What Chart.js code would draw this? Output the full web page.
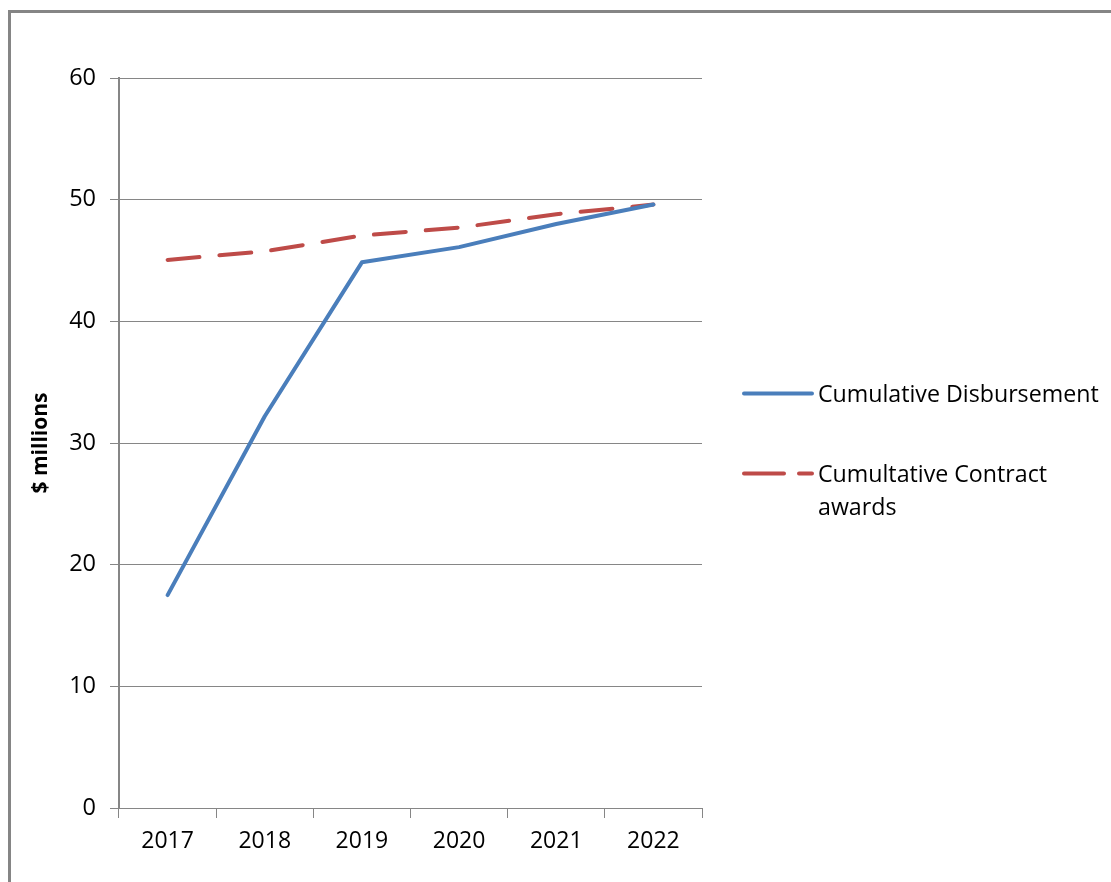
<!DOCTYPE html>
<html>
<head>
<meta charset="utf-8">
<script src="https://cdn.jsdelivr.net/npm/chart.js@4/dist/chart.umd.min.js"></script>
<style>
  html, body { margin: 0; padding: 0; background: #fff; overflow: hidden; width: 1111px; height: 882px; }
  #frame { position: absolute; left: 8px; top: 10px; width: 1200px; height: 1000px; border: 3px solid #858585; box-sizing: border-box; }
  #wrap { position: absolute; left: 0; top: 0; width: 1111px; height: 882px; }
  #legend { position: absolute; left: 742px; top: 0; font-family: "Open Sans", sans-serif; font-size: 23.2px; color: #000; }
  .item { position: absolute; left: 0; white-space: nowrap; }
  .item svg { position: absolute; left: 0; }
  .item span { position: absolute; left: 76px; line-height: 33px; display: block; white-space: normal; }
</style>
</head>
<body>
<div id="frame"></div>
<div id="wrap"><canvas id="c" width="1111" height="882"></canvas></div>
<div id="legend"></div>
<script>
const years = ['2017', '2018', '2019', '2020', '2021', '2022'];
const disbursement = [17.5, 32.2, 44.85, 46.1, 48.0, 49.6];
const contracts = [45.05, 45.75, 47.05, 47.7, 48.8, 49.6];
const seriesNames = ['Cumulative Disbursement', 'Cumultative Contract awards'];
const yTitle = '$ millions';

const FONT = '"Open Sans", sans-serif';
const GRID = '#868686';
const BLUE = '#4a7ebb';
const RED = '#be4b48';

const ctx = document.getElementById('c').getContext('2d');
new Chart(ctx, {
  type: 'line',
  data: {
    labels: years,
    datasets: [
      { label: seriesNames[0], data: disbursement, borderColor: BLUE, borderWidth: 4, pointRadius: 0, tension: 0, fill: false, borderCapStyle: 'round', borderJoinStyle: 'round' },
      { label: seriesNames[1], data: contracts, borderColor: RED, borderWidth: 4, pointRadius: 0, tension: 0, fill: false, borderDash: [32, 20], borderCapStyle: 'round' }
    ]
  },
  options: {
    responsive: false,
    devicePixelRatio: 1,
    animation: false,
    layout: { padding: { top: 78, right: 409, left: 0, bottom: 0 } },
    plugins: { legend: { display: false }, tooltip: { enabled: false } },
    scales: {
      y: {
        min: 0, max: 60,
        ticks: { stepSize: 10, color: '#000', font: { family: FONT, size: 23.5 }, padding: 14 },
        grid: { color: GRID, lineWidth: 1, tickLength: 9 },
        border: { color: GRID, width: 2 },
        title: { display: true, text: yTitle, color: '#000', font: { family: FONT, size: 21, weight: 'bold' }, padding: { top: 28, bottom: 0 } },
        afterFit(s) { s.width = 119; }
      },
      x: {
        offset: true,
        ticks: { color: '#000', font: { family: FONT, size: 23 }, padding: 10 },
        grid: { offset: true, drawOnChartArea: false, color: GRID, lineWidth: 1, tickLength: 10 },
        border: { color: GRID, width: 1 },
        afterFit(s) { s.height = 74; }
      }
    }
  }
});

// HTML legend built from the series names
const legend = document.getElementById('legend');
const items = [
  { name: seriesNames[0], color: BLUE, dash: '', top: 377 },
  { name: seriesNames[1], color: RED, dash: '40 15', top: 457 }
];
items.forEach(it => {
  const d = document.createElement('div');
  d.className = 'item';
  d.style.top = it.top + 'px';
  d.innerHTML = '<svg width="72" height="33"><line x1="2" y1="16.5" x2="70" y2="16.5" stroke="' + it.color + '" stroke-width="4" stroke-linecap="round" ' + (it.dash ? 'stroke-dasharray="' + it.dash + '"' : '') + '/></svg>' +
    '<span style="width:290px">' + it.name + '</span>';
  legend.appendChild(d);
});
</script>
</body>
</html>
